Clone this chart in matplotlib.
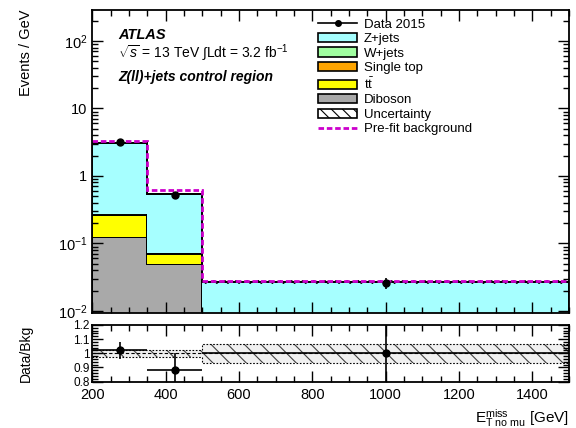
import numpy as np
import matplotlib
matplotlib.use("Agg")
import matplotlib.pyplot as plt
from matplotlib.patches import Patch
from matplotlib.lines import Line2D
from matplotlib.ticker import FixedLocator, MultipleLocator, NullFormatter, LogLocator

plt.rcParams['font.family'] = ['Liberation Sans', 'DejaVu Sans']
plt.rcParams['mathtext.fontset'] = 'custom'
plt.rcParams['mathtext.rm'] = 'Liberation Sans'
plt.rcParams['mathtext.it'] = 'Liberation Sans:italic'
plt.rcParams['hatch.linewidth'] = 0.8

# ---- data ----
bin_edges = [200, 350, 500, 1500]
diboson = [0.126, 0.050, 0.003]
ttbar = [0.136, 0.020, 0.001]
single_top = [0.004, 0.002, 0.0005]
wjets = [0.003, 0.001, 0.0005]
zjets = [2.84, 0.467, 0.022]
prefit = [3.33, 0.62, 0.0278]
data_vals = [3.22, 0.52, 0.026]
data_errs = [0.15, 0.06, 0.005]
rel_unc = [0.026, 0.026, 0.068]
ratio_vals = [1.02, 0.88, 1.0]
ratio_errs = [0.06, 0.12, 0.25]

labels = ["Z+jets", "W+jets", "Single top", r"t$\bar{\rm t}$", "Diboson"]
colors = {"zjets": "#a6ffff", "wjets": "#a0ffa0", "stop": "#ffa500",
          "ttbar": "#ffff00", "diboson": "#a9a9a9"}

edges = np.array(bin_edges, dtype=float)
centers = 0.5 * (edges[:-1] + edges[1:])
halfw = 0.5 * (edges[1:] - edges[:-1])

fig = plt.figure(figsize=(5.76, 4.28), dpi=100)
ax = fig.add_axes([0.160, 0.2694, 0.828, 0.7076])
rax = fig.add_axes([0.160, 0.1086, 0.828, 0.1321])

# stack
comps = [("diboson", diboson), ("ttbar", ttbar), ("stop", single_top),
         ("wjets", wjets), ("zjets", zjets)]
bottom = np.full(3, 1e-4)
for key, vals in comps:
    vals = np.array(vals)
    top = bottom + vals
    ax.stairs(top, edges, baseline=bottom, fill=True, color=colors[key], lw=0)
    ax.stairs(top, edges, baseline=None, color="black", lw=1.4)
    bottom = top
total = bottom
ax.stairs(total, edges, baseline=1e-4, fill=False, color="black", lw=1.2)

# uncertainty band
unc = total * np.array(rel_unc)
ax.stairs(total + unc, edges, baseline=total - unc, fill=False, hatch="\\\\\\",
          color="black", lw=0)

# prefit
ax.stairs(np.array(prefit), edges, baseline=None, color="#cc00cc", lw=2.0,
          ls=(0, (2.0, 1.0)))

# data
ax.errorbar(centers, data_vals, yerr=data_errs, fmt="o", color="black",
            ms=5, lw=1.2, capsize=0)

ax.set_yscale("log")
ax.set_xlim(200, 1500)
ax.set_ylim(0.0094, 290)
ax.yaxis.set_major_locator(FixedLocator([0.01, 0.1, 1, 10, 100]))
ax.set_yticklabels([r"10$^{-2}$", r"10$^{-1}$", "1", "10", r"10$^{2}$"])
ax.yaxis.set_minor_locator(LogLocator(base=10, subs=np.arange(2, 10)))
ax.yaxis.set_minor_formatter(NullFormatter())
ax.xaxis.set_major_locator(MultipleLocator(200))
ax.xaxis.set_minor_locator(MultipleLocator(50))
ax.set_xticklabels([])
ax.set_ylabel("Events / GeV", fontsize=10.5, loc="top")
ax.yaxis.set_label_coords(-0.125, 1.0)

for a in (ax, rax):
    a.tick_params(which="both", direction="in", top=True, right=True,
                  labelsize=10.5, width=1.0)
    a.tick_params(which="major", length=8)
    a.tick_params(which="minor", length=4)
    for s in a.spines.values():
        s.set_linewidth(1.3)

# texts
ax.text(0.055, 0.905, "ATLAS", transform=ax.transAxes, fontsize=10.5,
        fontweight="bold", style="italic")
ax.text(0.055, 0.84, r"$\sqrt{s}$ = 13 TeV $\int$Ldt = 3.2 fb$^{-1}$",
        transform=ax.transAxes, fontsize=10)
ax.text(0.055, 0.765, "Z(ll)+jets control region", transform=ax.transAxes,
        fontsize=10, fontweight="bold", style="italic")

handles = [
    Line2D([0], [0], color="black", marker="o", ms=4, lw=1.2),
    Patch(facecolor=colors["zjets"], edgecolor="black", lw=1.2),
    Patch(facecolor=colors["wjets"], edgecolor="black", lw=1.2),
    Patch(facecolor=colors["stop"], edgecolor="black", lw=1.2),
    Patch(facecolor=colors["ttbar"], edgecolor="black", lw=1.2),
    Patch(facecolor=colors["diboson"], edgecolor="black", lw=1.2),
    Patch(facecolor="white", edgecolor="black", hatch="\\\\\\", lw=1.2),
    Line2D([0], [0], color="#cc00cc", lw=2.0, ls=(0, (2.0, 1.0))),
]
leg_labels = ["Data 2015"] + labels + ["Uncertainty", "Pre-fit background"]
ax.legend(handles, leg_labels, loc="upper left", bbox_to_anchor=(0.455, 1.0),
          frameon=False, fontsize=9.5, handlelength=3.0, handleheight=0.7,
          labelspacing=0.17, handletextpad=0.5, borderaxespad=0.25)

# ratio panel
rel = np.array(rel_unc)
rax.stairs(1 + rel, edges, baseline=1 - rel, fill=True, color="#f0f0f0", lw=0)
rax.stairs(1 + rel, edges, baseline=1 - rel, fill=False, hatch="\\\\",
           color="#404040", lw=0)
rax.stairs(1 + rel, edges, baseline=None, color="black", lw=0.8, ls=(0, (1.5, 1.5)))
rax.stairs(1 - rel, edges, baseline=None, color="black", lw=0.8, ls=(0, (1.5, 1.5)))
rax.axhline(1.0, color="black", lw=0.8, ls=(0, (3, 2)))
rax.errorbar(centers, ratio_vals, yerr=ratio_errs, xerr=halfw, fmt="o",
             color="black", ms=5, lw=1.2, capsize=0)
rax.set_xlim(200, 1500)
rax.set_ylim(0.8, 1.2)
rax.yaxis.set_major_locator(FixedLocator([0.8, 0.9, 1.0, 1.1, 1.2]))
rax.set_yticklabels(["0.8", "0.9", "1", "1.1", "1.2"])
rax.yaxis.set_minor_locator(MultipleLocator(0.02))
rax.xaxis.set_major_locator(MultipleLocator(200))
rax.xaxis.set_minor_locator(MultipleLocator(50))
rax.tick_params(axis="y", labelsize=8.5, pad=2)
rax.tick_params(axis="x", labelsize=10.5, pad=5)
rax.set_ylabel("Data/Bkg", fontsize=10)
rax.yaxis.set_label_coords(-0.125, 0.5)
rax.set_xlabel(r"E$_{\rm T\ no\ mu}^{\rm miss}$ [GeV]", fontsize=11, loc="right")
rax.xaxis.set_label_coords(1.0, -0.45)

fig.savefig("out.png", dpi=100)
